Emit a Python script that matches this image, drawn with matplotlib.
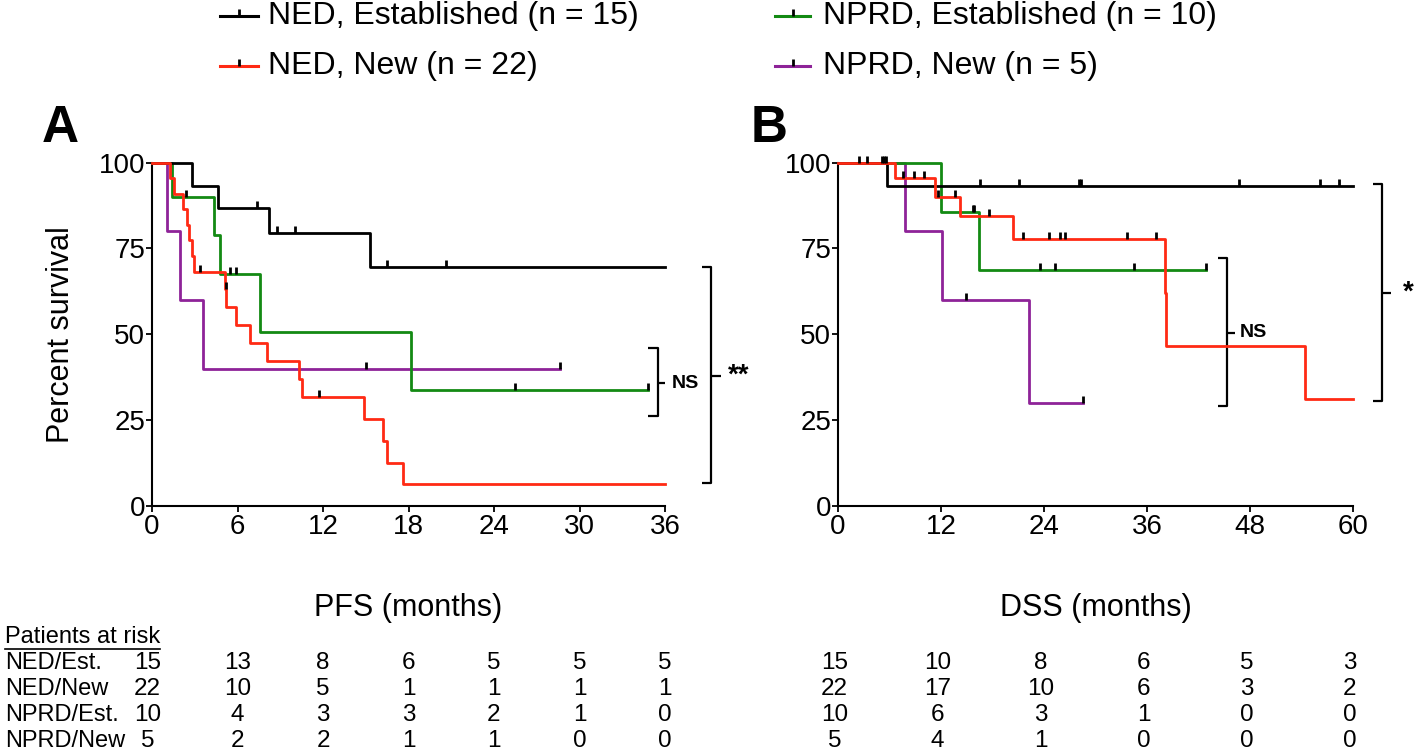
import matplotlib
matplotlib.use('Agg')
import matplotlib.pyplot as plt
from matplotlib.path import Path
from matplotlib.lines import Line2D
import matplotlib.transforms as mtransforms

plt.rcParams['font.family'] = ['Liberation Sans', 'DejaVu Sans']

# ---------------- data ----------------
group_labels = ['NED, Established (n = 15)', 'NED, New (n = 22)',
                'NPRD, Established (n = 10)', 'NPRD, New (n = 5)']
group_short = ['NED/Est.', 'NED/New', 'NPRD/Est.', 'NPRD/New']
colors = ['#000000', '#ff2a14', '#138a13', '#8e2398']

# Panel A: PFS (step times, survival after step, censor times, end of follow-up)
pfs_ned_est_t = [0, 2.8, 4.6, 8.2, 15.3]
pfs_ned_est_s = [100, 93.3, 86.7, 79.4, 69.5]
pfs_ned_est_c = [7.4, 8.8, 10.0, 16.5, 20.6]
pfs_ned_est_end = 36

pfs_ned_new_t = [0, 1.25, 1.52, 2.15, 2.48, 2.62, 2.79, 2.92, 5.12, 5.22, 5.9, 6.9,
                 8.1, 10.35, 10.5, 14.9, 16.2, 16.5, 17.6]
pfs_ned_new_s = [100, 95.5, 90.9, 86.4, 81.8, 77.3, 72.7, 68.2, 63.3, 58.0, 52.7, 47.4,
                 42.2, 36.9, 31.6, 25.3, 19.0, 12.6, 6.3]
pfs_ned_new_c = [3.4, 5.17, 11.7]
pfs_ned_new_end = 36

pfs_nprd_est_t = [0, 1.43, 4.37, 4.79, 7.6, 18.2]
pfs_nprd_est_s = [100, 90.0, 78.75, 67.5, 50.6, 33.75]
pfs_nprd_est_c = [2.4, 5.5, 5.9, 25.5, 34.8]
pfs_nprd_est_end = 34.8

pfs_nprd_new_t = [0, 1.03, 1.97, 3.6]
pfs_nprd_new_s = [100, 80, 60, 40]
pfs_nprd_new_c = [15.0, 28.6]
pfs_nprd_new_end = 28.6

# Panel B: DSS
dss_ned_est_t = [0, 5.75]
dss_ned_est_s = [100, 93.3]
dss_ned_est_c = [5.4, 5.6, 16.5, 21.1, 28.1, 28.3, 46.7, 56.1, 58.4]
dss_ned_est_end = 60

dss_ned_new_t = [0, 6.64, 11.3, 14.2, 20.4, 38.1, 38.25, 54.4]
dss_ned_new_s = [100, 95.5, 90.1, 84.3, 77.6, 62.1, 46.6, 31.1]
dss_ned_new_c = [7.6, 8.9, 10.0, 11.7, 13.6, 17.6, 21.5, 24.6, 25.9, 26.4, 33.7, 37.0]
dss_ned_new_end = 60

dss_nprd_est_t = [0, 12.0, 16.4]
dss_nprd_est_s = [100, 85.7, 68.6]
dss_nprd_est_c = [2.5, 3.4, 5.1, 15.7, 15.85, 23.5, 25.3, 34.5, 42.9]
dss_nprd_est_end = 42.9

dss_nprd_new_t = [0, 7.8, 12.1, 22.3]
dss_nprd_new_s = [100, 80, 60, 30]
dss_nprd_new_c = [14.9, 28.5]
dss_nprd_new_end = 28.5

pfs_risk_times = [0, 6, 12, 18, 24, 30, 36]
pfs_risk_ned_est = [15, 13, 8, 6, 5, 5, 5]
pfs_risk_ned_new = [22, 10, 5, 1, 1, 1, 1]
pfs_risk_nprd_est = [10, 4, 3, 3, 2, 1, 0]
pfs_risk_nprd_new = [5, 2, 2, 1, 1, 0, 0]

dss_risk_times = [0, 12, 24, 36, 48, 60]
dss_risk_ned_est = [15, 10, 8, 6, 5, 3]
dss_risk_ned_new = [22, 17, 10, 6, 3, 2]
dss_risk_nprd_est = [10, 6, 3, 1, 0, 0]
dss_risk_nprd_new = [5, 4, 1, 0, 0, 0]

# ---------------- figure ----------------
W, H = 1418, 751
fig = plt.figure(figsize=(W / 100, H / 100), dpi=100)

def fx(x):
    return x / W

def fy(y):
    return 1 - y / H

tick_path = Path([(0, 0), (0, 1)], [Path.MOVETO, Path.LINETO])

def surv_at(t, times, surv):
    s = surv[0]
    for ti, si in zip(times, surv):
        if ti <= t:
            s = si
    return s

def draw_km(ax, times, surv, cens, end, color):
    xs = list(times) + [end]
    ys = list(surv) + [surv[-1]]
    ax.step(xs, ys, where='post', color=color, lw=2.0, clip_on=False, zorder=3)
    cy = [surv_at(c, times, surv) for c in cens]
    ax.plot(cens, cy, ls='none', marker=tick_path, ms=10, mew=2.0, mec='black',
            color='black', clip_on=False, zorder=4)

def bracket(ax, xh, xv, ytop, ybot, ymid, xt, text, xtext, fs):
    kw = dict(color='black', lw=1.6, clip_on=False, solid_capstyle='butt')
    ax.plot([xh, xv, xv, xh], [ytop, ytop, ybot, ybot], **kw)
    ax.plot([xv, xt], [ymid, ymid], **kw)
    ax.text(xtext, ymid, text, ha='left', va='center', fontsize=fs,
            fontweight='bold', clip_on=False)

def style_axes(ax, xmax, xticks):
    ax.set_xlim(0, xmax)
    ax.set_ylim(0, 100)
    ax.set_xticks(xticks)
    ax.set_yticks([0, 25, 50, 75, 100])
    for s in ['top', 'right']:
        ax.spines[s].set_visible(False)
    for s in ['left', 'bottom']:
        ax.spines[s].set_linewidth(1.5)
    ax.tick_params(direction='out', length=4, width=1.3, labelsize=20, pad=2)
    ax.tick_params(axis='y', pad=1)

axA = fig.add_axes([fx(152), fy(506), fx(513), 343.5 / H])
axB = fig.add_axes([fx(838), fy(506), fx(515), 343.5 / H])

pfs = [
    (pfs_ned_est_t, pfs_ned_est_s, pfs_ned_est_c, pfs_ned_est_end),
    (pfs_ned_new_t, pfs_ned_new_s, pfs_ned_new_c, pfs_ned_new_end),
    (pfs_nprd_est_t, pfs_nprd_est_s, pfs_nprd_est_c, pfs_nprd_est_end),
    (pfs_nprd_new_t, pfs_nprd_new_s, pfs_nprd_new_c, pfs_nprd_new_end),
]
dss = [
    (dss_ned_est_t, dss_ned_est_s, dss_ned_est_c, dss_ned_est_end),
    (dss_ned_new_t, dss_ned_new_s, dss_ned_new_c, dss_ned_new_end),
    (dss_nprd_est_t, dss_nprd_est_s, dss_nprd_est_c, dss_nprd_est_end),
    (dss_nprd_new_t, dss_nprd_new_s, dss_nprd_new_c, dss_nprd_new_end),
]
order = [3, 2, 0, 1]
for i in order:
    draw_km(axA, *pfs[i], colors[i])
    draw_km(axB, *dss[i], colors[i])

style_axes(axA, 36, pfs_risk_times)
style_axes(axB, 60, dss_risk_times)
axA.set_ylabel('Percent survival', fontsize=22, labelpad=16)
axA.set_xlabel('PFS (months)', fontsize=22, labelpad=38)
axB.set_xlabel('DSS (months)', fontsize=22, labelpad=38)

# significance brackets
bracket(axA, 34.8, 35.5, 46.1, 26.3, 35.7, 36.0, 'NS', 36.45, 14)
bracket(axA, 38.6, 39.2, 69.7, 6.6, 37.9, 39.9, '**', 40.4, 20)
bracket(axB, 44.3, 45.3, 72.2, 29.1, 50.5, 46.2, 'NS', 46.8, 14)
bracket(axB, 62.3, 63.35, 93.8, 30.7, 62.1, 64.4, '*', 65.8, 20)

# panel letters
fig.text(fx(60), fy(128), 'A', ha='center', va='center', fontsize=37, fontweight='bold')
fig.text(fx(769), fy(128), 'B', ha='center', va='center', fontsize=37, fontweight='bold')

# legend (manual, two columns)
leg_pos = [(220, 258, 268, 16), (220, 258, 268, 66), (775, 810, 823, 16), (775, 810, 823, 66)]
for i, (x0, x1, xt, y) in enumerate(leg_pos):
    fig.add_artist(Line2D([fx(x0), fx(x1)], [fy(y), fy(y)], transform=fig.transFigure,
                          color=colors[i], lw=2.2))
    fig.add_artist(Line2D([fx((x0 + x1) / 2)], [fy(y)], transform=fig.transFigure,
                          ls='none', marker=tick_path, ms=10, mew=2.0, color='black'))
    fig.text(fx(xt), fy(y), group_labels[i], ha='left', va='center', fontsize=23)

# patients at risk table
fig.text(fx(5), fy(637), 'Patients at risk', ha='left', va='center', fontsize=17)
fig.add_artist(Line2D([fx(5), fx(160)], [fy(649), fy(649)], transform=fig.transFigure,
                      color='black', lw=1.2))
row_y = [663, 689, 715, 741]
pfs_rows = [pfs_risk_ned_est, pfs_risk_ned_new, pfs_risk_nprd_est, pfs_risk_nprd_new]
dss_rows = [dss_risk_ned_est, dss_risk_ned_new, dss_risk_nprd_est, dss_risk_nprd_new]
trA = mtransforms.blended_transform_factory(axA.transData, fig.transFigure)
trB = mtransforms.blended_transform_factory(axB.transData, fig.transFigure)
for r in range(4):
    fig.text(fx(5), fy(row_y[r]), group_short[r], ha='left', va='center', fontsize=17)
    for j, (t, n) in enumerate(zip(pfs_risk_times, pfs_rows[r])):
        axA.text(t - (0.3 if j == 0 else 0), fy(row_y[r]), str(n), transform=trA,
                 ha='center', va='center', fontsize=17.5, clip_on=False)
    for t, n in zip(dss_risk_times, dss_rows[r]):
        axB.text(t - 0.4, fy(row_y[r]), str(n), transform=trB, ha='center', va='center',
                 fontsize=17.5, clip_on=False)

fig.savefig('out.png', dpi=100)
